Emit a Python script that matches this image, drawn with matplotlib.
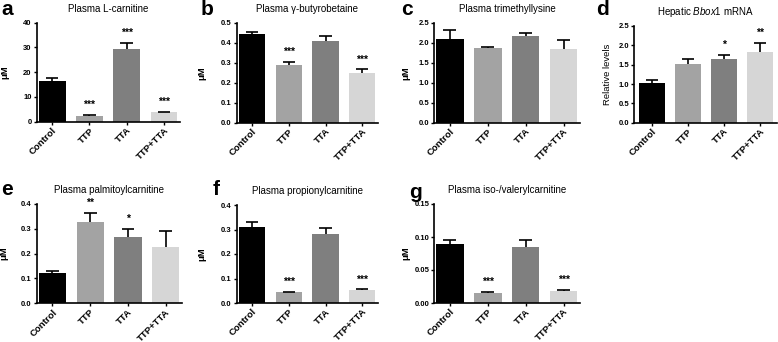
import matplotlib.pyplot as plt
from matplotlib.ticker import FormatStrFormatter
import numpy as np

plt.rcParams['font.family'] = ['Liberation Sans', 'DejaVu Sans']
plt.rcParams['mathtext.fontset'] = 'custom'
plt.rcParams['mathtext.it'] = 'Liberation Sans:italic'
plt.rcParams['mathtext.rm'] = 'Liberation Sans'

# grupos y colores de las barras
groups = ['Control', 'TTP', 'TTA', 'TTP+TTA']
colors = ['#000000', '#a3a3a3', '#7f7f7f', '#d6d6d6']

# valores medios y error (solo hacia arriba)
carnitine = [16.5, 2.3, 29.5, 3.8]
carnitine_err = [1.1, 0.4, 2.4, 0.3]
carnitine_stars = ['', '***', '***', '***']

butyrobetaine = [0.445, 0.291, 0.410, 0.247]
butyrobetaine_err = [0.009, 0.012, 0.024, 0.020]
butyrobetaine_stars = ['', '***', '', '***']

trimethyllysine = [2.10, 1.87, 2.17, 1.84]
trimethyllysine_err = [0.22, 0.03, 0.065, 0.22]
trimethyllysine_stars = ['', '', '', '']

bbox1 = [1.02, 1.53, 1.65, 1.82]
bbox1_err = [0.09, 0.12, 0.11, 0.24]
bbox1_stars = ['', '', '*', '**']

palmitoyl = [0.124, 0.327, 0.268, 0.228]
palmitoyl_err = [0.005, 0.036, 0.032, 0.065]
palmitoyl_stars = ['', '**', '*', '']

propionyl = [0.310, 0.043, 0.280, 0.055]
propionyl_err = [0.022, 0.003, 0.026, 0.001]
propionyl_stars = ['', '***', '', '***']

valeryl = [0.0896, 0.0152, 0.0855, 0.0186]
valeryl_err = [0.0066, 0.0013, 0.0095, 0.0008]
valeryl_stars = ['', '***', '', '***']

W, H = 778, 342
fig = plt.figure(figsize=(W / 100, H / 100), dpi=100)


def add_panel(box, letter, letter_xy, title, values, errors, stars,
              ymax, yticks, fmt, ylabel, label_x, ylabel_weight='bold', xlim=(-0.42, 3.43)):
    left, top, right, bottom = box
    ax = fig.add_axes([left / W, 1 - bottom / H, (right - left) / W, (bottom - top) / H])
    x = np.arange(len(groups))
    tops = np.add(values, errors)
    ax.bar(x, values, width=0.72, color=colors, zorder=2)
    ax.vlines(x, values, tops, color='black', lw=1.2, zorder=3)
    ax.hlines(tops, x - 0.17, x + 0.17, color='black', lw=1.2, zorder=3)
    for xi, t, s in zip(x, tops, stars):
        if s:
            ax.annotate(s, (xi, t), xytext=(0, 3.5), textcoords='offset points',
                        ha='center', va='bottom', fontsize=7.5, fontweight='bold')
    ax.set_xlim(*xlim)
    ax.set_ylim(0, ymax)
    ax.set_yticks(yticks)
    ax.yaxis.set_major_formatter(FormatStrFormatter(fmt))
    ax.set_xticks(x)
    ax.set_xticklabels(groups, rotation=45, ha='right', va='top',
                       rotation_mode='anchor', fontsize=6.8, fontweight='bold')
    for lab in ax.get_yticklabels():
        lab.set_fontweight('bold')
    ax.tick_params(axis='y', labelsize=5.5, length=2.5, width=1, pad=1)
    ax.tick_params(axis='x', length=2, width=1, pad=1)
    for side in ['top', 'right']:
        ax.spines[side].set_visible(False)
    for side in ['left', 'bottom']:
        ax.spines[side].set_linewidth(1.2)
    ax.set_title(title, fontsize=7, pad=8)
    ax.set_ylabel(ylabel, fontsize=6.8, fontweight=ylabel_weight)
    ax.yaxis.set_label_coords(label_x, 0.5)
    fig.text(letter_xy[0] / W, 1 - letter_xy[1] / H, letter, fontsize=15,
             fontweight='bold', ha='left', va='baseline')
    return ax


add_panel((36.5, 22.7, 180, 121.7), 'a', (1, 15), 'Plasma L-carnitine',
          carnitine, carnitine_err, carnitine_stars, 40, [0, 10, 20, 30, 40], '%d', 'μM', -0.19)
add_panel((236.7, 22.7, 378, 122.7), 'b', (201, 15), 'Plasma γ-butyrobetaine',
          butyrobetaine, butyrobetaine_err, butyrobetaine_stars, 0.5,
          [0, 0.1, 0.2, 0.3, 0.4, 0.5], '%.1f', 'μM', -0.213)
add_panel((434, 22.7, 580, 122.7), 'c', (401, 15), 'Plasma trimethyllysine',
          trimethyllysine, trimethyllysine_err, trimethyllysine_stars, 2.5,
          [0, 0.5, 1.0, 1.5, 2.0, 2.5], '%.1f', 'μM', -0.164)
add_panel((634, 26, 777, 122.7), 'd', (596, 15), r'Hepatic $\mathit{Bbox1}$ mRNA',
          bbox1, bbox1_err, bbox1_stars, 2.5,
          [0, 0.5, 1.0, 1.5, 2.0, 2.5], '%.1f', 'Relative levels', -0.154, 'normal',
          xlim=(-0.5, 3.47))
add_panel((36.5, 204, 182, 303.3), 'e', (1, 195), 'Plasma palmitoylcarnitine',
          palmitoyl, palmitoyl_err, palmitoyl_stars, 0.4,
          [0, 0.1, 0.2, 0.3, 0.4], '%.1f', 'μM', -0.19)
add_panel((236.7, 205, 378, 303), 'f', (213, 195), 'Plasma propionylcarnitine',
          propionyl, propionyl_err, propionyl_stars, 0.4,
          [0, 0.1, 0.2, 0.3, 0.4], '%.1f', 'μM', -0.218)
add_panel((434, 204, 580, 303), 'g', (409, 198), 'Plasma iso-/valerylcarnitine',
          valeryl, valeryl_err, valeryl_stars, 0.15,
          [0, 0.05, 0.10, 0.15], '%.2f', 'μM', -0.164)

fig.savefig('out.png', dpi=100)
